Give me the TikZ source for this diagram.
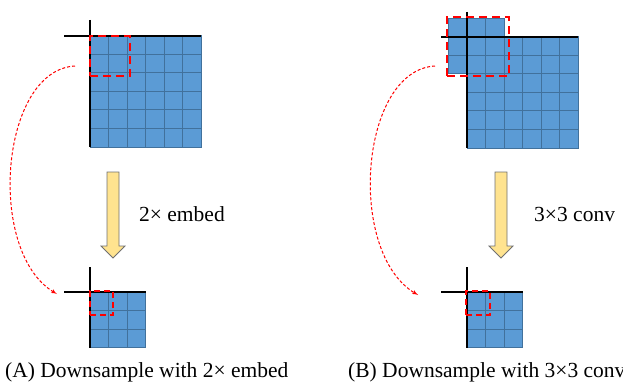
\documentclass[tikz,border=0pt]{standalone}
\usepackage{fontspec}
\setmainfont{Liberation Serif}
\usepackage{tikz}
\usetikzlibrary{arrows, positioning, shapes}

\definecolor{cellblue}{HTML}{5B9BD5}
\definecolor{cellline}{HTML}{41719C}
\definecolor{arrowfill}{HTML}{FFE38F}
\definecolor{arrowline}{HTML}{707070}

\tikzset{
	cellbox/.style={fill=cellblue, draw=cellline, line width=1pt},
	axisline/.style={draw=black, line width=2.6pt},
	winbox/.style={draw=red, line width=2.4pt, dash pattern=on 8pt off 5pt, inner sep=0pt, anchor=north west},
	smallwinbox/.style={draw=red, line width=2.2pt, dash pattern=on 6pt off 4pt, inner sep=0pt, anchor=north west},
	flowline/.style={draw=red, line width=1pt, dash pattern=on 3pt off 2pt},
	bigarrow/.style={fill=arrowfill, draw=arrowline, line width=0.8pt},
	txt/.style={font=\fontsize{21.5}{24}\selectfont, inner sep=0pt, anchor=west}
}

\begin{document}
\begin{tikzpicture}[x=1pt, y=-1pt]

\useasboundingbox (0,0) rectangle (623,385);

% left: big feature map
\foreach \i in {0,...,5}
	\foreach \j in {0,...,5}
		\draw [cellbox] (90+18.5*\i, 36+18.5*\j) rectangle ++(18.5,18.5);
\draw [axisline] (90,20) -- (90,147);
\draw [axisline] (64,36) -- (201,36);
\node [winbox, minimum width=40pt, minimum height=40pt] (winA) at (89,35) {};

% left: small feature map
\foreach \i in {0,...,2}
	\foreach \j in {0,...,2}
		\draw [cellbox] (90+18.5*\i, 292+18.5*\j) rectangle ++(18.5,18.5);
\draw [axisline] (90,267) -- (90,348);
\draw [axisline] (64,292) -- (146,292);
\node [smallwinbox, minimum width=23pt, minimum height=24pt] (winAs) at (89,290) {};

% right: big feature map with padding
\foreach \i/\j in {-1/-1, 0/-1, 1/-1, -1/0, -1/1}
	\draw [cellbox] (467+18.5*\i, 37+18.5*\j) rectangle ++(18.5,18.5);
\foreach \i in {0,...,5}
	\foreach \j in {0,...,5}
		\draw [cellbox] (467+18.5*\i, 37+18.5*\j) rectangle ++(18.5,18.5);
\draw [axisline] (467,12) -- (467,148);
\draw [axisline] (441,37) -- (578,37);
\node [winbox, minimum width=62pt, minimum height=59pt] (winB) at (446,16) {};

% right: small feature map
\foreach \i in {0,...,2}
	\foreach \j in {0,...,2}
		\draw [cellbox] (467+18.5*\i, 292+18.5*\j) rectangle ++(18.5,18.5);
\draw [axisline] (467,267) -- (467,348);
\draw [axisline] (441,292) -- (523,292);
\node [smallwinbox, minimum width=24pt, minimum height=24pt] (winBs) at (465,290) {};

% down arrows
\coordinate (tipA) at (113,258);
\coordinate (tipB) at (501,258);
\path [bigarrow] (107,172) -- (119,172) -- (119,246) -- (125,246) -- (tipA) -- (101,246) -- (107,246) -- cycle;
\path [bigarrow] (495,172) -- (507,172) -- (507,246) -- (513,246) -- (tipB) -- (489,246) -- (495,246) -- cycle;

\node [txt] (embedA) at (139,214.5) {2× embed};
\node [txt] (convB) at (534,214.5) {3×3 conv};

% dashed correspondence arrows
\coordinate (fromA) at (75,66);
\coordinate (toA) at (57,294);
\coordinate (fromB) at (435,66);
\coordinate (toB) at (418,295);
\path [flowline, -latex'] (fromA) .. controls (0,70) and (-14,252) .. (toA);
\path [flowline, -latex'] (fromB) .. controls (360,70) and (346,252) .. (toB);

\node [txt] (capA) at (5,372) {(A) Downsample with 2× embed};
\node [txt] (capB) at (348,372) {(B) Downsample with 3×3 conv};

\end{tikzpicture}
\end{document}
